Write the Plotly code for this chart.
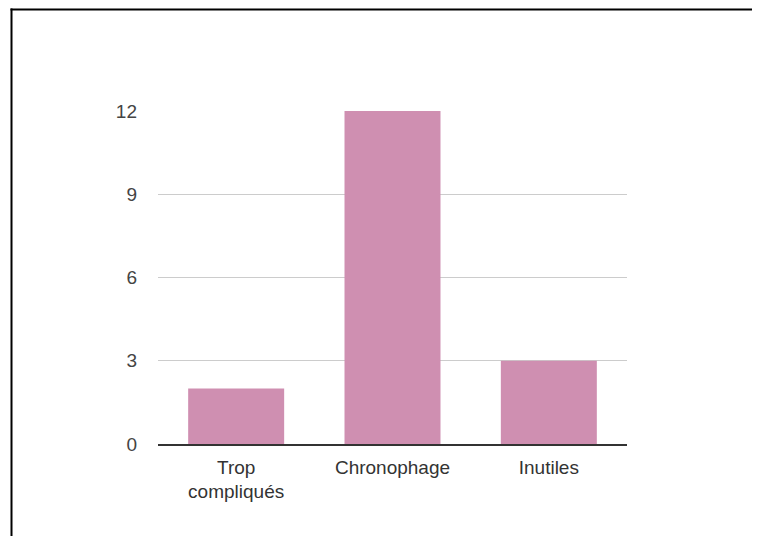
import plotly.graph_objects as go

categories = ["Trop<br>compliqués", "Chronophage", "Inutiles"]
values = [2, 12, 3]
y_ticks = [0, 3, 6, 9, 12]

# page has an 8px body margin, so figure is sized to fit the window exactly
W, H = 744, 528
L, R, T, B = 150, 125, 103, 92
pw, ph = W - L - R, H - T - B

def px_x(x):
    return (x - L) / pw

def px_y(y):
    return (H - B - y) / ph

fig = go.Figure(go.Bar(x=categories, y=values, marker=dict(color="#cf8fb1", line=dict(width=0)),
                       hoverinfo="skip"))

border = dict(color="black", width=2)
fig.update_layout(
    width=W, height=H,
    margin=dict(l=L, r=R, t=T, b=B, pad=0),
    paper_bgcolor="white", plot_bgcolor="white",
    font=dict(family="Liberation Sans, Arial, sans-serif", size=19, color="#444444"),
    bargap=0.386,
    showlegend=False,
    xaxis=dict(showgrid=False, showline=True, linecolor="#333333", linewidth=1.5,
               ticks="", ticklabelstandoff=5, tickfont=dict(size=19, color="#333333")),
    yaxis=dict(range=[0, 12], tickvals=y_ticks, showgrid=True, gridcolor="#cccccc",
               gridwidth=1, zeroline=False, showline=False, ticks="",
               ticklabelstandoff=20, tickfont=dict(size=19, color="#444444")),
    shapes=[
        dict(type="line", xref="paper", yref="paper",
             x0=px_x(2.5), x1=px_x(W + 20), y0=px_y(1.5), y1=px_y(1.5), line=border),
        dict(type="line", xref="paper", yref="paper",
             x0=px_x(3.5), x1=px_x(3.5), y0=px_y(0.5), y1=px_y(H + 20), line=border),
    ],
)

fig.write_html("out.html", config={"displayModeBar": False},
               post_script="document.documentElement.style.overflow='hidden';document.body.style.overflow='hidden';")
